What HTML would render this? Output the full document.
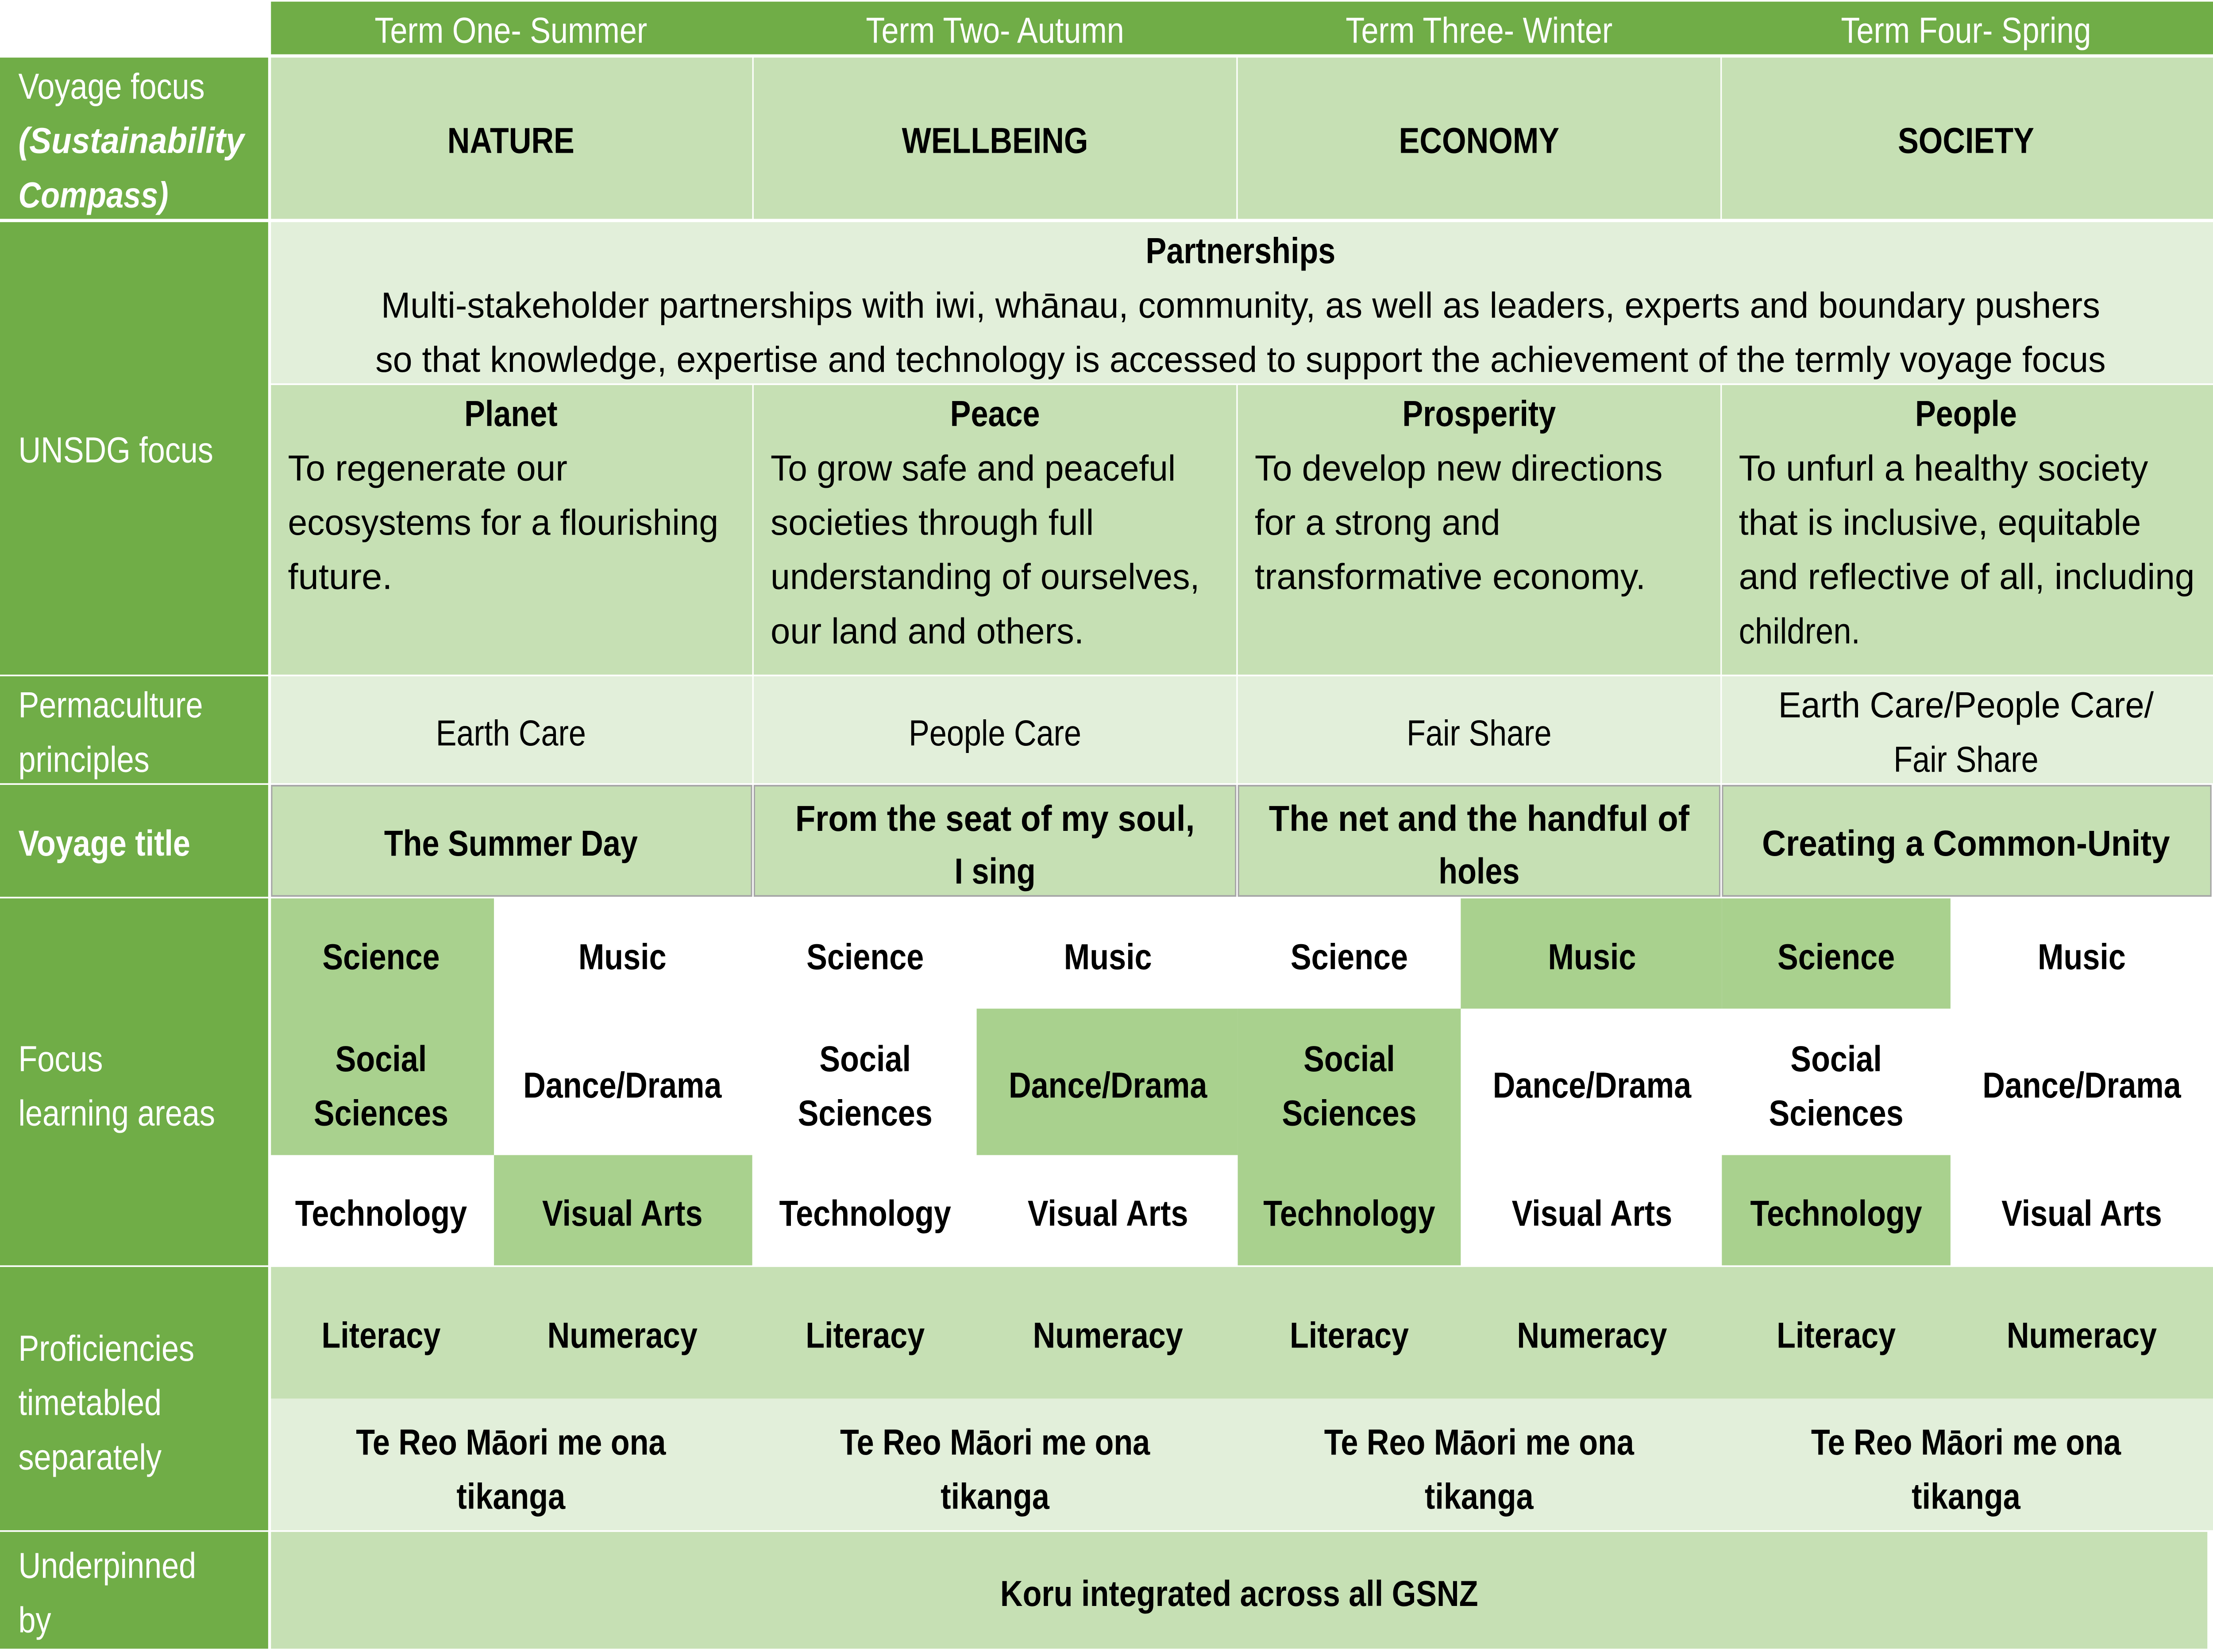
<!DOCTYPE html>
<html><head><meta charset="utf-8"><style>
html,body{margin:0;padding:0;background:#fff;width:100vw;height:100vh;overflow:hidden;}
svg{display:block;width:100vw;height:100vh;}
text{font-family:"Liberation Sans",sans-serif;font-size:22px;fill:#000;}
.w{fill:#fff;}
.b{font-weight:bold;}
.m{text-anchor:middle;}
.d{fill:#70AD47;} .l{fill:#C6E0B4;} .x{fill:#E2EFDA;} .g{fill:#A9D18E;} .wh{fill:#fff;}
</style></head><body>
<svg viewBox="0 0 1568 1004" preserveAspectRatio="none" xmlns="http://www.w3.org/2000/svg">
<rect x="0" y="0" width="1568" height="1004" fill="#fff"/>
<rect class="d" x="192" y="1" width="1376" height="32"/>
<text class="w m" x="362" y="26">Term One- Summer</text>
<text class="w m" x="705" y="26">Term Two- Autumn</text>
<text class="w m" x="1048" y="26">Term Three- Winter</text>
<text class="w m" x="1393" y="26">Term Four- Spring</text>
<rect class="d" x="0" y="35" width="190" height="98"/>
<rect class="d" x="0" y="135" width="190" height="275"/>
<rect class="d" x="0" y="411" width="190" height="65"/>
<rect class="d" x="0" y="477" width="190" height="68"/>
<rect class="d" x="0" y="546" width="190" height="223"/>
<rect class="d" x="0" y="770" width="190" height="160"/>
<rect class="d" x="0" y="931" width="190" height="71"/>
<text class="w" x="13" y="60">Voyage focus</text>
<text class="w b" x="13" y="93" font-style="italic" textLength="160" lengthAdjust="spacingAndGlyphs">(Sustainability</text>
<text class="w b" x="13" y="126" font-style="italic">Compass)</text>
<text class="w" x="13" y="281">UNSDG focus</text>
<text class="w" x="13" y="436">Permaculture</text>
<text class="w" x="13" y="469">principles</text>
<text class="w b" x="13" y="520">Voyage title</text>
<text class="w" x="13" y="651">Focus</text>
<text class="w" x="13" y="684">learning areas</text>
<text class="w" x="13" y="827">Proficiencies</text>
<text class="w" x="13" y="860">timetabled</text>
<text class="w" x="13" y="893">separately</text>
<text class="w" x="13" y="959">Underpinned</text>
<text class="w" x="13" y="992">by</text>
<rect class="l" x="192" y="35" width="341" height="98"/>
<rect class="l" x="534" y="35" width="342" height="98"/>
<rect class="l" x="877" y="35" width="342" height="98"/>
<rect class="l" x="1220" y="35" width="348" height="98"/>
<text class="b m" x="362" y="93">NATURE</text>
<text class="b m" x="705" y="93">WELLBEING</text>
<text class="b m" x="1048" y="93">ECONOMY</text>
<text class="b m" x="1393" y="93">SOCIETY</text>
<rect class="x" x="192" y="135" width="1376" height="98"/>
<text class="b m" x="879" y="160">Partnerships</text>
<text x="270" y="193" textLength="1218" lengthAdjust="spacingAndGlyphs">Multi-stakeholder partnerships with iwi, whānau, community, as well as leaders, experts and boundary pushers</text>
<text x="266" y="226" textLength="1226" lengthAdjust="spacingAndGlyphs">so that knowledge, expertise and technology is accessed to support the achievement of the termly voyage focus</text>
<rect class="l" x="192" y="234" width="341" height="176"/>
<rect class="l" x="534" y="234" width="342" height="176"/>
<rect class="l" x="877" y="234" width="342" height="176"/>
<rect class="l" x="1220" y="234" width="348" height="176"/>
<text class="b m" x="362" y="259">Planet</text>
<text class="b m" x="705" y="259">Peace</text>
<text class="b m" x="1048" y="259">Prosperity</text>
<text class="b m" x="1393" y="259">People</text>
<text x="204" y="292" textLength="198" lengthAdjust="spacingAndGlyphs">To regenerate our</text>
<text x="204" y="325" textLength="305" lengthAdjust="spacingAndGlyphs">ecosystems for a flourishing</text>
<text x="204" y="358" textLength="74" lengthAdjust="spacingAndGlyphs">future.</text>
<text x="546" y="292" textLength="287" lengthAdjust="spacingAndGlyphs">To grow safe and peaceful</text>
<text x="546" y="325" textLength="229" lengthAdjust="spacingAndGlyphs">societies through full</text>
<text x="546" y="358" textLength="304" lengthAdjust="spacingAndGlyphs">understanding of ourselves,</text>
<text x="546" y="391" textLength="222" lengthAdjust="spacingAndGlyphs">our land and others.</text>
<text x="889" y="292" textLength="289" lengthAdjust="spacingAndGlyphs">To develop new directions</text>
<text x="889" y="325" textLength="174" lengthAdjust="spacingAndGlyphs">for a strong and</text>
<text x="889" y="358" textLength="277" lengthAdjust="spacingAndGlyphs">transformative economy.</text>
<text x="1232" y="292" textLength="290" lengthAdjust="spacingAndGlyphs">To unfurl a healthy society</text>
<text x="1232" y="325" textLength="285" lengthAdjust="spacingAndGlyphs">that is inclusive, equitable</text>
<text x="1232" y="358" textLength="323" lengthAdjust="spacingAndGlyphs">and reflective of all, including</text>
<text x="1232" y="391" textLength="86" lengthAdjust="spacingAndGlyphs">children.</text>
<rect class="x" x="192" y="411" width="341" height="65"/>
<rect class="x" x="534" y="411" width="342" height="65"/>
<rect class="x" x="877" y="411" width="342" height="65"/>
<rect class="x" x="1220" y="411" width="348" height="65"/>
<text class="m" x="362" y="453">Earth Care</text>
<text class="m" x="705" y="453">People Care</text>
<text class="m" x="1048" y="453">Fair Share</text>
<text class="m" x="1393" y="436" textLength="266" lengthAdjust="spacingAndGlyphs">Earth Care/People Care/</text>
<text class="m" x="1393" y="469">Fair Share</text>
<g stroke="#a6a6a6" stroke-width="1">
<rect class="l" x="192.5" y="477.5" width="340" height="67"/>
<rect class="l" x="534.5" y="477.5" width="341" height="67"/>
<rect class="l" x="877.5" y="477.5" width="341" height="67"/>
<rect class="l" x="1220.5" y="477.5" width="346" height="67"/>
</g>
<text class="b m" x="362" y="520">The Summer Day</text>
<text class="b m" x="705" y="505" textLength="283" lengthAdjust="spacingAndGlyphs">From the seat of my soul,</text>
<text class="b m" x="705" y="537">I sing</text>
<text class="b m" x="1048" y="505" textLength="298" lengthAdjust="spacingAndGlyphs">The net and the handful of</text>
<text class="b m" x="1048" y="537">holes</text>
<text class="b m" x="1393" y="520" textLength="289" lengthAdjust="spacingAndGlyphs">Creating a Common-Unity</text>
<rect class="g" x="192" y="546" width="158" height="156"/>
<rect class="g" x="350" y="702" width="183" height="67"/>
<rect class="g" x="692" y="613" width="185" height="89"/>
<rect class="g" x="877" y="613" width="158" height="156"/>
<rect class="g" x="1035" y="546" width="185" height="67"/>
<rect class="g" x="1220" y="546" width="162" height="67"/>
<rect class="g" x="1220" y="702" width="162" height="67"/>
<g class="b m">
<text x="270" y="589">Science</text><text x="270" y="651">Social</text><text x="270" y="684">Sciences</text><text x="270" y="745">Technology</text>
<text x="441" y="589">Music</text><text x="441" y="667">Dance/Drama</text><text x="441" y="745">Visual Arts</text>
<text x="613" y="589">Science</text><text x="613" y="651">Social</text><text x="613" y="684">Sciences</text><text x="613" y="745">Technology</text>
<text x="785" y="589">Music</text><text x="785" y="667">Dance/Drama</text><text x="785" y="745">Visual Arts</text>
<text x="956" y="589">Science</text><text x="956" y="651">Social</text><text x="956" y="684">Sciences</text><text x="956" y="745">Technology</text>
<text x="1128" y="589">Music</text><text x="1128" y="667">Dance/Drama</text><text x="1128" y="745">Visual Arts</text>
<text x="1301" y="589">Science</text><text x="1301" y="651">Social</text><text x="1301" y="684">Sciences</text><text x="1301" y="745">Technology</text>
<text x="1475" y="589">Music</text><text x="1475" y="667">Dance/Drama</text><text x="1475" y="745">Visual Arts</text>
</g>
<rect class="l" x="192" y="770" width="1376" height="80"/>
<rect class="x" x="192" y="850" width="1376" height="80"/>
<g class="b m">
<text x="270" y="819">Literacy</text><text x="441" y="819">Numeracy</text>
<text x="613" y="819">Literacy</text><text x="785" y="819">Numeracy</text>
<text x="956" y="819">Literacy</text><text x="1128" y="819">Numeracy</text>
<text x="1301" y="819">Literacy</text><text x="1475" y="819">Numeracy</text>
<text x="362" y="884">Te Reo Māori me ona</text><text x="362" y="917">tikanga</text>
<text x="705" y="884">Te Reo Māori me ona</text><text x="705" y="917">tikanga</text>
<text x="1048" y="884">Te Reo Māori me ona</text><text x="1048" y="917">tikanga</text>
<text x="1393" y="884">Te Reo Māori me ona</text><text x="1393" y="917">tikanga</text>
</g>
<rect class="l" x="192" y="931" width="1372" height="71"/>
<text class="b m" x="878" y="976">Koru integrated across all GSNZ</text>
</svg>
</body></html>
